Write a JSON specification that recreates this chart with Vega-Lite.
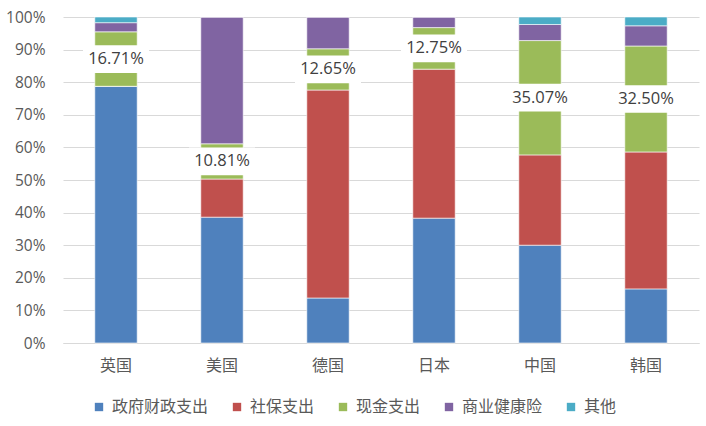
{
  "$schema": "https://vega.github.io/schema/vega-lite/v6.json",
  "width": 636,
  "height": 326,
  "autosize": "none",
  "padding": {"left": 63, "top": 17, "right": 7, "bottom": 83},
  "background": "white",
  "config": {
    "view": {"stroke": null},
    "font": "Noto Sans CJK SC",
    "axisY": {
      "title": null,
      "labelOverlap": false,
      "format": ".0%",
      "labelFont": "Open Sans",
      "labelFontSize": 15.5,
      "labelColor": "#595959",
      "labelPadding": 18,
      "ticks": false,
      "domain": false,
      "gridColor": "#D9D9D9",
      "gridWidth": 1
    }
  },
  "data": {
    "values": [
      {"country": "英国", "type": "政府财政支出", "k": 1, "value": 0.7875},
      {"country": "英国", "type": "社保支出", "k": 2, "value": 0},
      {"country": "英国", "type": "现金支出", "k": 3, "value": 0.1671},
      {"country": "英国", "type": "商业健康险", "k": 4, "value": 0.028},
      {"country": "英国", "type": "其他", "k": 5, "value": 0.0174},
      {"country": "美国", "type": "政府财政支出", "k": 1, "value": 0.386},
      {"country": "美国", "type": "社保支出", "k": 2, "value": 0.117},
      {"country": "美国", "type": "现金支出", "k": 3, "value": 0.1081},
      {"country": "美国", "type": "商业健康险", "k": 4, "value": 0.3889},
      {"country": "美国", "type": "其他", "k": 5, "value": 0},
      {"country": "德国", "type": "政府财政支出", "k": 1, "value": 0.138},
      {"country": "德国", "type": "社保支出", "k": 2, "value": 0.638},
      {"country": "德国", "type": "现金支出", "k": 3, "value": 0.1265},
      {"country": "德国", "type": "商业健康险", "k": 4, "value": 0.0975},
      {"country": "德国", "type": "其他", "k": 5, "value": 0},
      {"country": "日本", "type": "政府财政支出", "k": 1, "value": 0.383},
      {"country": "日本", "type": "社保支出", "k": 2, "value": 0.457},
      {"country": "日本", "type": "现金支出", "k": 3, "value": 0.1275},
      {"country": "日本", "type": "商业健康险", "k": 4, "value": 0.0325},
      {"country": "日本", "type": "其他", "k": 5, "value": 0},
      {"country": "中国", "type": "政府财政支出", "k": 1, "value": 0.300},
      {"country": "中国", "type": "社保支出", "k": 2, "value": 0.277},
      {"country": "中国", "type": "现金支出", "k": 3, "value": 0.3507},
      {"country": "中国", "type": "商业健康险", "k": 4, "value": 0.0493},
      {"country": "中国", "type": "其他", "k": 5, "value": 0.023},
      {"country": "韩国", "type": "政府财政支出", "k": 1, "value": 0.166},
      {"country": "韩国", "type": "社保支出", "k": 2, "value": 0.420},
      {"country": "韩国", "type": "现金支出", "k": 3, "value": 0.325},
      {"country": "韩国", "type": "商业健康险", "k": 4, "value": 0.062},
      {"country": "韩国", "type": "其他", "k": 5, "value": 0.027}
    ]
  },
  "encoding": {
    "x": {
      "field": "country",
      "type": "nominal",
      "sort": ["英国", "美国", "德国", "日本", "中国", "韩国"],
      "scale": {"paddingInner": 0.6, "paddingOuter": 0.3},
      "axis": {
        "title": null,
        "labelAngle": 0,
        "labelFontSize": 16,
        "labelColor": "#595959",
        "labelPadding": 14,
        "ticks": false,
        "domain": true,
        "domainColor": "#D9D9D9",
        "grid": false
      }
    }
  },
  "layer": [
    {
      "mark": {"type": "bar", "stroke": "white", "strokeWidth": 0.6},
      "encoding": {
        "y": {
          "field": "value",
          "type": "quantitative",
          "stack": "zero",
          "scale": {"domain": [0, 1], "nice": false},
          "axis": {"values": [0, 0.1, 0.2, 0.3, 0.4, 0.5, 0.6, 0.7, 0.8, 0.9, 1]}
        },
        "order": {"field": "k", "type": "quantitative"},
        "color": {
          "field": "type",
          "type": "nominal",
          "scale": {
            "domain": ["政府财政支出", "社保支出", "现金支出", "商业健康险", "其他"],
            "range": ["#4F81BD", "#C0504D", "#9BBB59", "#8064A2", "#4BACC6"]
          },
          "legend": {
            "title": null,
            "orient": "none",
            "direction": "horizontal",
            "legendX": 28,
            "legendY": 382,
            "symbolType": "square",
            "symbolSize": 70,
            "symbolStrokeWidth": 0,
            "labelFontSize": 16,
            "labelColor": "#595959",
            "labelOffset": 5,
            "columnPadding": 20
          }
        }
      }
    },
    {
      "mark": {
        "type": "point",
        "shape": "M-1,-0.42H1V0.42H-1Z",
        "filled": true,
        "color": "white",
        "size": 4356,
        "strokeWidth": 0
      },
      "encoding": {
        "y": {"field": "value", "type": "quantitative", "stack": "zero", "bandPosition": 0.5,
              "axis": {"values": [0, 0.1, 0.2, 0.3, 0.4, 0.5, 0.6, 0.7, 0.8, 0.9, 1]}},
        "order": {"field": "k", "type": "quantitative"},
        "detail": {"field": "type", "type": "nominal"},
        "opacity": {
          "condition": {"test": "datum.type === '现金支出'", "value": 1},
          "value": 0
        }
      }
    },
    {
      "mark": {
        "type": "text",
        "font": "Open Sans",
        "fontSize": 16.5,
        "color": "#404040",
        "baseline": "middle",
        "align": "center"
      },
      "encoding": {
        "y": {"field": "value", "type": "quantitative", "stack": "zero", "bandPosition": 0.5,
              "axis": {"values": [0, 0.1, 0.2, 0.3, 0.4, 0.5, 0.6, 0.7, 0.8, 0.9, 1]}},
        "order": {"field": "k", "type": "quantitative"},
        "detail": {"field": "type", "type": "nominal"},
        "text": {"field": "value", "type": "quantitative", "format": ".2%"},
        "opacity": {
          "condition": {"test": "datum.type === '现金支出'", "value": 1},
          "value": 0
        }
      }
    }
  ]
}
